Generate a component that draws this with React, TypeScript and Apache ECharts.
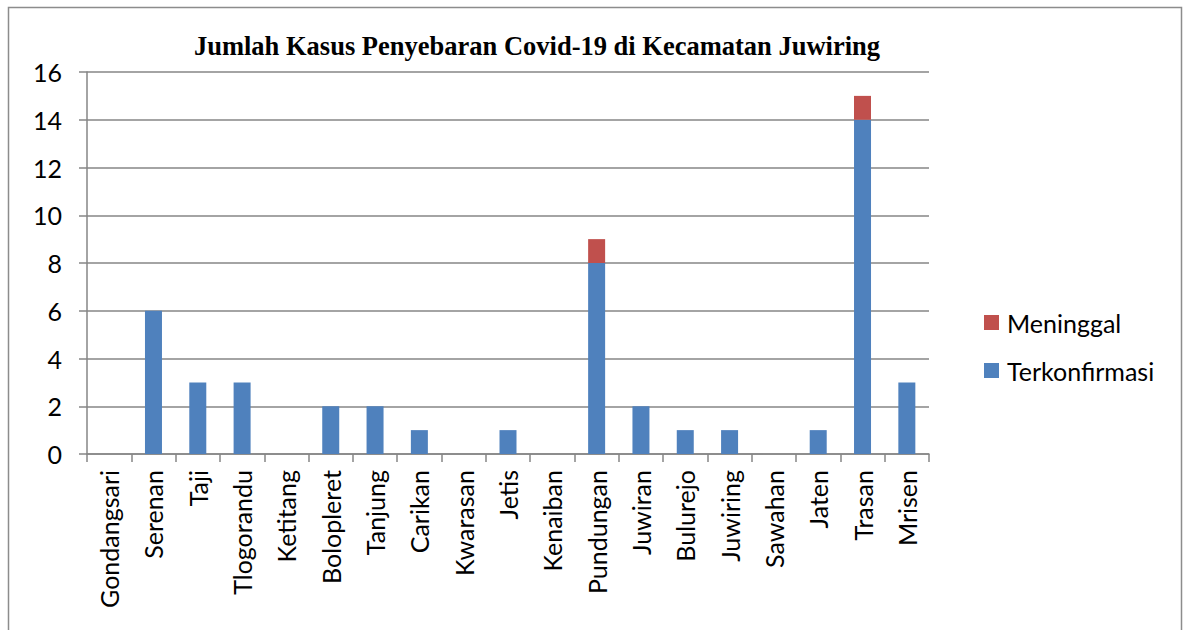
import React, { useEffect, useRef } from "react";
import * as echarts from "echarts";

const categories = [
  "Gondangsari", "Serenan", "Taji", "Tlogorandu", "Ketitang", "Bolopleret",
  "Tanjung", "Carikan", "Kwarasan", "Jetis", "Kenaiban", "Pundungan",
  "Juwiran", "Bulurejo", "Juwiring", "Sawahan", "Jaten", "Trasan", "Mrisen",
];
const terkonfirmasi = [0, 6, 3, 3, 0, 2, 2, 1, 0, 1, 0, 8, 2, 1, 1, 0, 1, 14, 3];
const meninggal = [0, 0, 0, 0, 0, 0, 0, 0, 0, 0, 0, 1, 0, 0, 0, 0, 0, 1, 0];
const titleText = "Jumlah Kasus Penyebaran Covid-19 di Kecamatan Juwiring";

export default function App() {
  const ref = useRef<HTMLDivElement>(null);
  useEffect(() => {
    if (!ref.current) return;
    const chart = echarts.init(ref.current, null, { renderer: "svg" });
    const sans = "Lato, 'Open Sans', sans-serif";
    chart.setOption({
      animation: false,
      backgroundColor: "#ffffff",
      title: {
        text: titleText,
        left: 532,
        textAlign: "center",
        top: 27,
        textStyle: {
          fontFamily: "'Liberation Serif', 'Times New Roman', serif",
          fontWeight: "bold",
          fontSize: 26.5,
          color: "#000",
        },
      },
      graphic: [
        {
          type: "rect",
          shape: { x: 8.5, y: 7.5, width: 1173, height: 640 },
          style: { fill: "none", stroke: "#8c8c8c", lineWidth: 1.5 },
          silent: true,
        },
      ],
      legend: {
        orient: "vertical",
        left: 984,
        top: 310,
        padding: 0,
        itemWidth: 15,
        itemHeight: 15,
        itemGap: 23,
        icon: "rect",
        data: ["Meninggal", "Terkonfirmasi"],
        textStyle: { fontFamily: sans, fontSize: 25, color: "#000", padding: [0, 0, 0, 3] },
      },
      grid: { left: 87, top: 72, right: 258, bottom: 176, containLabel: false },
      xAxis: {
        type: "category",
        data: categories,
        axisLine: { show: true, lineStyle: { color: "#868686", width: 1.5 } },
        axisTick: { show: true, length: 8, alignWithLabel: false, lineStyle: { color: "#868686", width: 1.5 } },
        axisLabel: {
          interval: 0,
          rotate: 90,
          margin: 16,
          fontFamily: sans,
          fontSize: 25,
          color: "#000",
        },
        splitLine: { show: false },
      },
      yAxis: {
        type: "value",
        min: 0,
        max: 16,
        interval: 2,
        axisLine: { show: true, lineStyle: { color: "#868686", width: 1.5 } },
        axisTick: { show: true, length: 8, lineStyle: { color: "#868686", width: 1.5 } },
        axisLabel: { margin: 25, fontFamily: sans, fontSize: 25, color: "#000" },
        splitLine: { show: true, lineStyle: { color: "#868686", width: 1.5 } },
      },
      series: [
        {
          name: "Terkonfirmasi",
          type: "bar",
          stack: "total",
          barWidth: 17,
          data: terkonfirmasi,
          itemStyle: { color: "#4F81BD" },
        },
        {
          name: "Meninggal",
          type: "bar",
          stack: "total",
          barWidth: 17,
          data: meninggal,
          itemStyle: { color: "#C0504D" },
        },
      ],
    });
    return () => chart.dispose();
  }, []);
  return (
    <div
      ref={ref}
      style={{ position: "fixed", left: 0, top: 0, width: 1187, height: 630 }}
    />
  );
}
